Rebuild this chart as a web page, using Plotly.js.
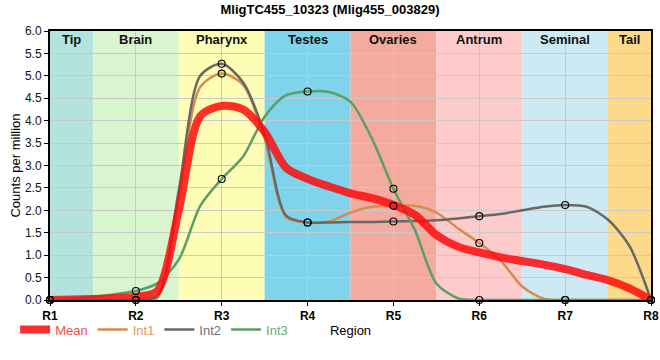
<!DOCTYPE html>
<html>
<head>
<meta charset="utf-8">
<script src="https://cdn.plot.ly/plotly-3.0.1.min.js"></script>
<style>html,body{margin:0;padding:0;background:#fff}#chart{width:660px;height:360px}</style>
</head>
<body>
<div id="chart"></div>
<script>
// ---- data ----
const regionTicks = [1, 2, 3, 4, 5, 6, 7, 8];
const regionLabels = ["R1", "R2", "R3", "R4", "R5", "R6", "R7", "R8"];

// positions along the region axis at which the curves were read
const xs = [1, 1.25, 1.5, 1.75, 2, 2.25, 2.5, 2.75, 3, 3.25, 3.5, 3.75, 4, 4.25, 4.5, 4.75,
            5, 5.25, 5.5, 5.75, 6, 6.25, 6.5, 6.75, 7, 7.25, 7.5, 7.75, 8];

const meanVals = [0, 0.01, 0.02, 0.04, 0.07, 0.2, 2.0, 4.1, 4.33, 4.25, 3.75, 2.95, 2.7, 2.53, 2.38, 2.27,
                  2.12, 1.9, 1.45, 1.19, 1.06, 0.95, 0.87, 0.79, 0.69, 0.56, 0.44, 0.26, 0];
const int1Vals = [0, 0, 0, 0, 0, 0.05, 2.3, 4.75, 5.05, 4.8, 3.6, 1.85, 1.73, 1.75, 1.95, 2.08,
                  2.1, 2.1, 1.95, 1.6, 1.27, 0.88, 0.3, 0.03, 0, 0, 0, 0, 0];
const int2Vals = [0, 0, 0, 0, 0, 0.08, 2.45, 5.0, 5.27, 4.85, 3.7, 1.88, 1.73, 1.73, 1.74, 1.74,
                  1.75, 1.76, 1.78, 1.82, 1.87, 1.92, 2.0, 2.08, 2.12, 2.08, 1.79, 1.2, 0];
const int3Vals = [0, 0.03, 0.07, 0.13, 0.2, 0.37, 0.9, 2.1, 2.7, 3.2, 4.09, 4.57, 4.65, 4.64, 4.42, 3.6,
                  2.48, 1.56, 0.37, 0.04, 0, 0, 0, 0, 0, 0, 0, 0, 0];

const bandNames = ["Tip", "Brain", "Pharynx", "Testes", "Ovaries", "Antrum", "Seminal", "Tail"];
const bandStarts = [1, 1.5, 2.5, 3.5, 4.5, 5.5, 6.5, 7.5];
const bandEnds = [1.5, 2.5, 3.5, 4.5, 5.5, 6.5, 7.5, 8];

// ---- styles ----
const bandColors = ["#b3e3de", "#d8f5cf", "#fefdb6", "#7fd3ea", "#f4aa9c", "#fdcbcc", "#cdeaf4", "#fdd98a"];
const FONT = "Liberation Sans, Arial, sans-serif";

const shapes = bandNames.map((n, i) => ({
  type: "rect", xref: "x", yref: "paper", x0: bandStarts[i], x1: bandEnds[i], y0: 0, y1: 1,
  fillcolor: bandColors[i], line: {width: 0}, layer: "below"
}));
const annotations = bandNames.map((n, i) => ({
  text: n, xref: "x", yref: "paper", x: (bandStarts[i] + bandEnds[i]) / 2, y: 1,
  yanchor: "top", yshift: 1, showarrow: false,
  font: {family: FONT, size: 13, color: "#111", weight: "bold"}
}));

function lineTrace(name, vals, color, width, textColor, rank) {
  return {
    x: xs, y: vals, type: "scatter", mode: "lines", name: '<span style="color:' + textColor + '">' + name + '</span>',
    line: {color: color, width: width, shape: "spline", smoothing: 0.8},
    legendrank: rank, hoverinfo: "skip"
  };
}
function markerTrace(vals) {
  const mx = [], my = [];
  xs.forEach((x, i) => { if (Number.isInteger(x)) { mx.push(x); my.push(vals[i]); } });
  return {
    x: mx, y: my, type: "scatter", mode: "markers", showlegend: false, cliponaxis: false,
    marker: {symbol: "circle", size: 7, color: "rgba(0,0,0,0)", line: {color: "#000", width: 1.1}},
    hoverinfo: "skip"
  };
}

const traces = [
  lineTrace("Int1", int1Vals, "#d98b4e", 2.5, "#e3965f", 2),
  lineTrace("Int2", int2Vals, "#676767", 2.5, "#6e6e78", 3),
  lineTrace("Int3", int3Vals, "#5c9e65", 2.5, "#68aa74", 4),
  lineTrace("Mean", meanVals, "rgba(255,10,10,0.85)", 8, "#ff4a4a", 1),
  markerTrace(int1Vals), markerTrace(int2Vals), markerTrace(int3Vals)
];

const layout = {
  width: 660, height: 360,
  margin: {l: 50, r: 9, t: 31, b: 60},
  paper_bgcolor: "#fff", plot_bgcolor: "#fff",
  font: {family: FONT, size: 12, color: "#000"},
  title: {text: "MligTC455_10323 (Mlig455_003829)", x: 0.5, xanchor: "center", y: 0.975, yanchor: "middle",
          font: {family: FONT, size: 13, color: "#000", weight: "bold"}},
  xaxis: {
    range: [1, 8], tickvals: regionTicks, ticktext: regionLabels, automargin: false,
    showgrid: true, gridcolor: "#c9c9c9", gridwidth: 1, zeroline: false,
    showline: true, linecolor: "#000", linewidth: 2, mirror: true,
    ticks: "outside", ticklen: 4, tickcolor: "#000",
    tickfont: {family: FONT, size: 12, color: "#000", weight: "bold"},
    title: {text: "Region", font: {family: FONT, size: 13, color: "#000"}, standoff: 3}
  },
  yaxis: {
    range: [0, 6], dtick: 0.5, tickformat: ".1f", automargin: false,
    showgrid: true, gridcolor: "#c9c9c9", gridwidth: 1, zeroline: false,
    showline: true, linecolor: "#000", linewidth: 2, mirror: true,
    ticks: "outside", ticklen: 4, tickcolor: "#000",
    tickfont: {family: FONT, size: 12, color: "#111"},
    title: {text: "Counts per million", font: {family: FONT, size: 13, color: "#000"}, standoff: 1}
  },
  legend: {orientation: "h", x: -0.058, xanchor: "left", y: -0.11, yanchor: "middle",
           font: {family: FONT, size: 13}, bgcolor: "rgba(0,0,0,0)", traceorder: "normal"},
  shapes: shapes, annotations: annotations
};

Plotly.newPlot("chart", traces, layout, {displayModeBar: false, staticPlot: true});
</script>
</body>
</html>
